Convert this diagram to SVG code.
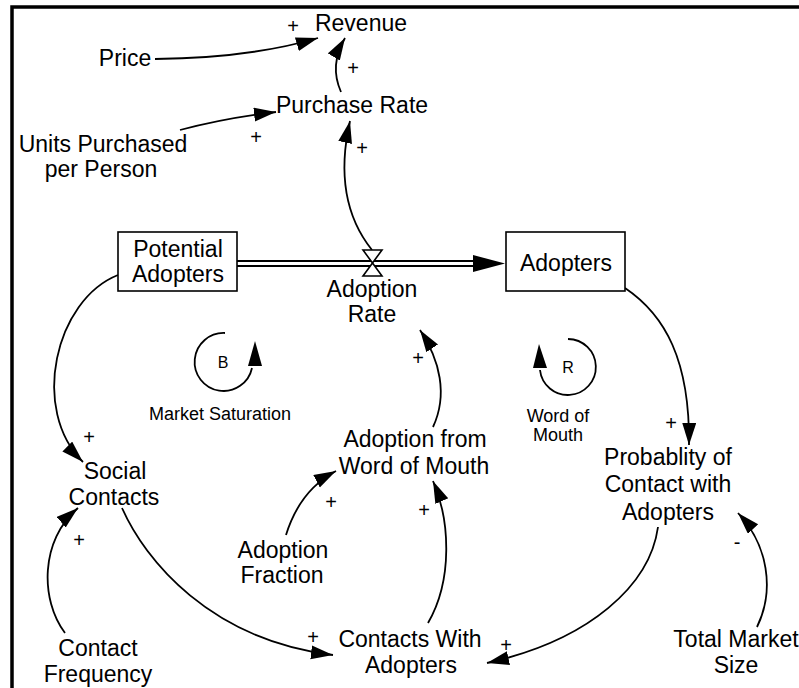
<svg xmlns="http://www.w3.org/2000/svg" width="799" height="688" viewBox="0 0 799 688">
<defs>
<marker id="ah" markerUnits="userSpaceOnUse" markerWidth="24" markerHeight="16" refX="22" refY="7" orient="auto">
<path d="M0,0 L22,7 L0,14 Z" fill="#000"/>
</marker>
<style>
text{font-family:"Liberation Sans",Arial,sans-serif;fill:#000}
.t{font-size:23px;text-anchor:middle}
.s{font-size:18px;text-anchor:middle}
.l{font-size:16px;text-anchor:middle}
.p{font-size:20px;text-anchor:middle}
.c{fill:none;stroke:#000;stroke-width:1.8;marker-end:url(#ah)}
.a{fill:none;stroke:#000;stroke-width:1.8}
.box{fill:#fff;stroke:#000;stroke-width:1.6}
</style>
</defs>
<rect width="799" height="688" fill="#fff"/>
<path d="M12,688 L12,7 L799,7" fill="none" stroke="#000" stroke-width="3.5"/>

<g id="connectors">
<path class="c" d="M155,59 Q250,58 318,38"/>
<path class="c" d="M341,92 Q329,65 345,38"/>
<path class="c" d="M180,130 Q225,118 276,112"/>
<path class="c" d="M372,250 Q332,200 350,121"/>
<path class="c" d="M118,275 C55,300 30,410 83,462"/>
<path class="c" d="M65,633 C40,600 40,540 78,508"/>
<path class="c" d="M122,508 C145,560 210,640 333,655"/>
<path class="c" d="M286,535 Q300,490 336,471"/>
<path class="c" d="M428,623 C453,580 450,520 433,481"/>
<path class="c" d="M433,427 C448,395 440,360 420,330"/>
<path class="c" d="M625,288 C665,315 690,360 689,445"/>
<path class="c" d="M757,627 C775,590 768,545 738,513"/>
<path class="c" d="M658,527 C650,585 590,640 487,663"/>
<g id="loop-arrows">
<path class="a" d="M225,333 A29,29 0 1 0 252,368"/>
<polygon points="248,366 262,366 255,341" fill="#000"/>
<path class="a" d="M568,339 A28,28 0 1 1 540,370"/>
<polygon points="533,368 547,368 539,344" fill="#000"/>
</g>
<g id="flow">
<line x1="237" y1="261" x2="476" y2="261" stroke="#000" stroke-width="2"/>
<line x1="237" y1="266" x2="476" y2="266" stroke="#000" stroke-width="2"/>
<polygon points="473,255 505,263.5 473,272" fill="#000"/>
<path d="M363,250 L382,250 L363,276 L382,276 Z" fill="#fff" stroke="#000" stroke-width="1.6"/>
</g>
<g id="polarities">
<text class="p" x="293" y="33">+</text>
<text class="p" x="353" y="75">+</text>
<text class="p" x="256" y="144">+</text>
<text class="p" x="362" y="155">+</text>
<text class="p" x="89" y="444">+</text>
<text class="p" x="79" y="547">+</text>
<text class="p" x="313" y="644">+</text>
<text class="p" x="331" y="509">+</text>
<text class="p" x="424" y="517">+</text>
<text class="p" x="418" y="365">+</text>
<text class="p" x="671" y="430">+</text>
<text class="p" x="506" y="652">+</text>
<text class="p" x="737" y="549">-</text>
</g>
</g>

<g id="revenue"><text class="t" x="361" y="31">Revenue</text></g>
<g id="price"><text class="t" x="125" y="66">Price</text></g>
<g id="purchase-rate"><text class="t" x="352" y="113">Purchase Rate</text></g>
<g id="units-purchased"><text class="t" x="103" y="152">Units Purchased</text><text class="t" x="101" y="177">per Person</text></g>
<g id="potential-adopters"><rect class="box" x="118" y="232" width="119" height="59"/><text class="t" x="178" y="257">Potential</text><text class="t" x="178" y="282">Adopters</text></g>
<g id="adopters"><rect class="box" x="506" y="232" width="119" height="59"/><text class="t" x="566" y="271">Adopters</text></g>
<g id="adoption-rate"><text class="t" x="372" y="297">Adoption</text><text class="t" x="372" y="322">Rate</text></g>
<g id="loop-b"><text class="l" x="223" y="368">B</text><text class="s" x="220" y="420">Market Saturation</text></g>
<g id="loop-r"><text class="l" x="568" y="373">R</text><text class="s" x="558" y="422">Word of</text><text class="s" x="558" y="441">Mouth</text></g>
<g id="social-contacts"><text class="t" x="115" y="479">Social</text><text class="t" x="114" y="505">Contacts</text></g>
<g id="adoption-wom"><text class="t" x="415" y="447">Adoption from</text><text class="t" x="414" y="474">Word of Mouth</text></g>
<g id="probability"><text class="t" x="668" y="465">Probablity of</text><text class="t" x="668" y="492">Contact with</text><text class="t" x="668" y="520">Adopters</text></g>
<g id="adoption-fraction"><text class="t" x="283" y="558">Adoption</text><text class="t" x="282" y="583">Fraction</text></g>
<g id="contact-frequency"><text class="t" x="98" y="656">Contact</text><text class="t" x="98" y="682">Frequency</text></g>
<g id="contacts-with-adopters"><text class="t" x="410" y="647">Contacts With</text><text class="t" x="411" y="673">Adopters</text></g>
<g id="total-market-size"><text class="t" x="736" y="647">Total Market</text><text class="t" x="736" y="673">Size</text></g>
</svg>
